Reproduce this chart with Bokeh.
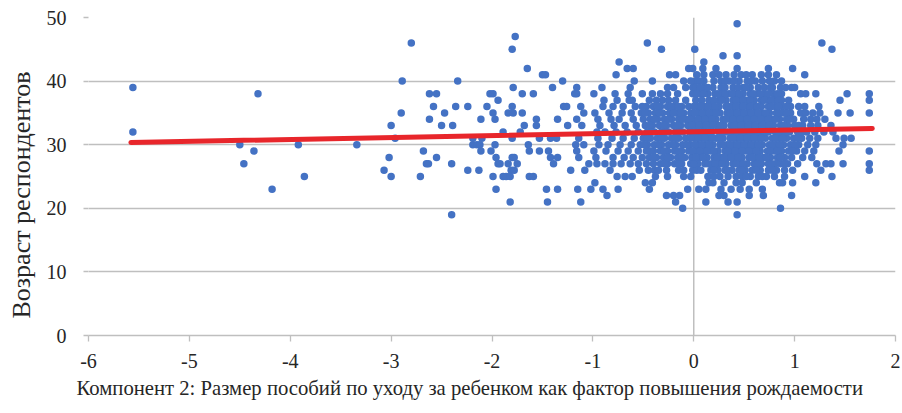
from bokeh.plotting import figure
from bokeh.models import ColumnDataSource, Span, Title, FixedTicker, Range1d
from bokeh.embed import file_html
from bokeh.resources import INLINE

# Component-2 scores of respondents, grouped by respondent age (years)
x_by_age = {
    49: [0.43],
    47: [-1.77],
    46: [-2.80, -0.46, 1.27],
    45: [-1.80, -0.32, 0.01, 1.37],
    44: [0.29, 0.43],
    43: [-0.74, 0.10],
    42: [-1.65, -0.66, -0.60, -0.05, -0.01, 0.09, 0.22, 0.43, 0.74, 0.98],
    41: [-1.50, -1.47, -0.77, -0.24, -0.18, 0.19, 0.32, 0.58, 0.67, 0.74, 1.10],
    40: [-2.89, -2.34, -1.30, -0.59, -0.41, -0.10, 0.02, 0.10, 0.27, 0.35, 0.45, 0.53, 0.61, 0.68, 0.80],
    39: [-5.56, -1.79, -1.40, -1.16, -0.91, -0.63, -0.26, -0.20, -0.01, 0.02, 0.10, 0.19, 0.27, 0.39, 0.49,
         0.56, 0.64, 0.78, 0.86, 0.97, 1.00],
    38: [-4.32, -2.62, -2.55, -2.02, -1.99, -1.70, -1.59, -1.18, -1.16, -0.99, -0.78, -0.65, -0.51, -0.41,
         -0.26, -0.16, -0.01, 0.07, 0.14, 0.21, 0.28, 0.35, 0.42, 0.49, 0.56, 0.63, 0.70, 0.79, 0.87, 1.06,
         1.11, 1.21, 1.52, 1.74],
    37: [-1.94, -0.89, -0.76, -0.64, -0.61, -0.44, -0.31, -0.25, -0.08, 0.02, 0.15, 0.25, 0.32, 0.39, 0.46,
         0.53, 0.60, 0.67, 0.74, 0.81, 0.87, 0.94, 1.45, 1.74],
    36: [-2.58, -2.36, -2.24, -2.05, -1.80, -1.29, -1.26, -1.12, -0.90, -0.80, -0.70, -0.58, -0.47, -0.40,
         -0.33, -0.26, -0.19, -0.12, -0.05, 0.04, 0.11, 0.18, 0.25, 0.32, 0.39, 0.46, 0.53, 0.60, 0.67, 0.74,
         0.81, 0.88, 0.96, 1.04, 1.24],
    35: [-2.90, -2.47, -1.99, -1.84, -1.79, -1.70, -1.09, -0.98, -0.84, -0.71, -0.62, -0.52, -0.45, -0.38,
         -0.31, -0.24, -0.17, -0.10, -0.03, 0.05, 0.12, 0.19, 0.26, 0.33, 0.40, 0.47, 0.54, 0.61, 0.68, 0.75,
         0.82, 0.89, 0.96, 1.06, 1.11, 1.18, 1.25, 1.43, 1.55, 1.74],
    34: [-2.62, -2.11, -1.97, -1.56, -1.35, -1.16, -0.95, -0.82, -0.74, -0.60, -0.50, -0.43, -0.36, -0.29,
         -0.22, -0.15, -0.08, -0.01, 0.08, 0.15, 0.22, 0.29, 0.36, 0.43, 0.50, 0.57, 0.64, 0.71, 0.78, 0.85,
         0.92, 0.99, 1.09, 1.16, 1.30],
    33: [-3.00, -2.50, -2.39, -1.68, -1.56, -1.25, -1.11, -0.93, -0.79, -0.68, -0.57, -0.48, -0.41, -0.34,
         -0.27, -0.20, -0.13, -0.06, 0.02, 0.09, 0.16, 0.23, 0.30, 0.37, 0.44, 0.51, 0.58, 0.65, 0.72, 0.79,
         0.86, 0.93, 1.00, 1.08, 1.16, 1.23, 1.36],
    32: [-5.56, -1.89, -1.72, -0.96, -0.88, -0.77, -0.66, -0.55, -0.46, -0.39, -0.32, -0.25, -0.18, -0.11,
         -0.04, 0.04, 0.11, 0.18, 0.25, 0.32, 0.39, 0.46, 0.53, 0.60, 0.67, 0.74, 0.81, 0.88, 0.95, 1.03,
         1.12, 1.20, 1.29, 1.38],
    31: [-2.96, -2.19, -2.10, -1.80, -1.53, -1.42, -1.36, -1.14, -0.95, -0.81, -0.70, -0.59, -0.50, -0.43,
         -0.36, -0.29, -0.22, -0.15, -0.08, 0.01, 0.08, 0.15, 0.22, 0.29, 0.36, 0.43, 0.50, 0.57, 0.64, 0.71,
         0.78, 0.85, 0.92, 0.99, 1.07, 1.15, 1.23, 1.41, 1.49, 1.56],
    30: [-4.50, -3.92, -3.34, -2.19, -2.15, -2.12, -1.97, -1.64, -1.17, -1.09, -0.94, -0.85, -0.73, -0.62,
         -0.53, -0.46, -0.39, -0.32, -0.25, -0.18, -0.11, -0.04, 0.05, 0.12, 0.19, 0.26, 0.33, 0.40, 0.47,
         0.54, 0.61, 0.68, 0.75, 0.82, 0.89, 0.96, 1.04, 1.13, 1.21, 1.48],
    29: [-4.36, -2.68, -2.11, -2.01, -1.63, -1.53, -1.44, -1.16, -0.99, -0.87, -0.75, -0.65, -0.55, -0.47,
         -0.40, -0.33, -0.26, -0.19, -0.12, -0.05, 0.03, 0.10, 0.17, 0.24, 0.31, 0.38, 0.45, 0.52, 0.59,
         0.66, 0.73, 0.80, 0.87, 0.94, 1.02, 1.10, 1.19, 1.44, 1.74],
    28: [-3.02, -2.55, -1.96, -1.80, -1.78, -1.42, -1.35, -1.14, -0.97, -0.80, -0.69, -0.60, -0.51, -0.44,
         -0.37, -0.30, -0.23, -0.16, -0.09, -0.02, 0.06, 0.13, 0.20, 0.27, 0.34, 0.41, 0.48, 0.55, 0.62,
         0.69, 0.76, 0.83, 0.90, 0.97, 1.08, 1.17],
    27: [-4.46, -2.65, -2.63, -2.40, -1.94, -1.92, -1.84, -1.75, -1.39, -1.04, -0.96, -0.88, -0.80, -0.72,
         -0.63, -0.55, -0.47, -0.40, -0.33, -0.26, -0.19, -0.12, -0.03, 0.04, 0.11, 0.18, 0.25, 0.32, 0.39,
         0.46, 0.53, 0.60, 0.67, 0.74, 0.81, 0.86, 0.93, 1.03, 1.22, 1.31, 1.36, 1.48, 1.74],
    26: [-3.07, -2.24, -2.13, -1.81, -1.78, -1.22, -1.08, -0.83, -0.54, -0.45, -0.39, -0.35, -0.27, -0.15,
         -0.10, -0.01, 0.03, 0.17, 0.24, 0.31, 0.38, 0.45, 0.51, 0.58, 0.66, 0.74, 0.82, 0.90, 0.98, 1.26, 1.74],
    25: [-3.86, -3.00, -2.71, -1.99, -1.89, -1.86, -1.82, -1.63, -1.59, -0.76, -0.68, -0.61, -0.38, -0.26,
         -0.10, -0.03, 0.14, 0.26, 0.34, 0.42, 0.48, 0.56, 0.64, 0.72, 0.80, 0.90, 1.10, 1.37],
    24: [-0.98, -0.48, -0.41, 0.15, 0.19, 0.30, 0.42, 0.48, 0.62, 0.85, 0.88, 0.98, 1.21],
    23: [-4.18, -1.96, -1.46, -1.35, -1.15, -1.02, -0.90, -0.75, -0.44, -0.06, 0.27, 0.37, 0.46, 0.68],
    22: [-0.86, -0.27, -0.20, -0.14, 0.25, 0.30, 0.55, 0.69, 0.97],
    21: [-1.82, -1.45, -1.12, -0.18, 0.12, 0.34, 0.43],
    20: [-0.11, 0.86],
    19: [-2.40, 0.43],
}

# Additional respondents in the dense core of the cloud (same ages)
x_by_age_core = {
    41: [0.03, 0.10, 0.25, 0.40, 0.47, 0.52, 0.82],
    40: [-0.03, 0.06, 0.20, 0.31, 0.40, 0.57, 0.75, 0.87],
    39: [-0.08, 0.06, 0.14, 0.31, 0.44, 0.52, 0.70, 0.76, 0.91],
    38: [-0.33, 0.03, 0.10, 0.24, 0.31, 0.38, 0.45, 0.59, 0.66, 0.74, 0.83],
    37: [-0.37, -0.18, 0.08, 0.20, 0.28, 0.42, 0.49, 0.56, 0.70, 0.77, 0.84],
    36: [-0.51, -0.36, -0.22, -0.15, 0.00, 0.07, 0.14, 0.21, 0.35, 0.42, 0.49, 0.56, 0.63, 0.77, 0.84, 0.92,
         1.10],
    35: [-0.48, -0.34, -0.20, -0.13, 0.01, 0.08, 0.15, 0.22, 0.36, 0.43, 0.50, 0.57, 0.64, 0.71, 0.85, 0.92],
    34: [-0.39, -0.25, -0.11, -0.04, 0.04, 0.11, 0.18, 0.32, 0.39, 0.46, 0.53, 0.60, 0.67, 0.74, 0.81, 0.95,
         1.22],
    33: [-0.44, -0.30, -0.16, -0.02, 0.05, 0.12, 0.19, 0.26, 0.40, 0.47, 0.54, 0.61, 0.68, 0.75, 0.89, 1.04],
    32: [-0.42, -0.28, -0.14, 0.00, 0.07, 0.14, 0.28, 0.35, 0.42, 0.49, 0.56, 0.63, 0.70, 0.84, 0.91, 1.07],
    31: [-0.46, -0.32, -0.18, -0.03, 0.04, 0.11, 0.18, 0.25, 0.39, 0.46, 0.53, 0.60, 0.67, 0.81, 0.88, 1.03],
    30: [-0.49, -0.35, -0.21, -0.07, 0.01, 0.08, 0.15, 0.29, 0.36, 0.43, 0.50, 0.57, 0.64, 0.78, 0.85, 1.00],
    29: [-0.43, -0.29, -0.15, -0.01, 0.06, 0.13, 0.20, 0.34, 0.41, 0.48, 0.55, 0.62, 0.76, 0.83, 0.98],
    28: [-0.40, -0.26, -0.12, 0.02, 0.09, 0.23, 0.30, 0.37, 0.44, 0.58, 0.65, 0.72, 0.86],
    27: [-0.29, -0.15, 0.00, 0.14, 0.21, 0.28, 0.42, 0.49, 0.63, 0.77, 0.90],
    26: [0.07, 0.20, 0.34, 0.48, 0.62, 0.78],
    25: [0.20, 0.52, 0.68],
    23: [0.05, 0.12, 0.55],
}

# Linear trend line (end points)
fit_x = [-5.58, 1.77]
fit_y = [30.35, 32.55]

x_ticks = [-6, -5, -4, -3, -2, -1, 0, 1, 2]
y_ticks = [0, 10, 20, 30, 40, 50]
x_title = "Компонент 2: Размер пособий по уходу за ребенком как фактор повышения рождаемости"
y_title = "Возраст респондентов"

xs, ys = [], []
for table in (x_by_age, x_by_age_core):
    for age, row in table.items():
        xs.extend(row)
        ys.extend([age] * len(row))
src = ColumnDataSource(dict(x=xs, y=ys))

FONT = "Liberation Serif"
TXT = "#262626"
GRID = "#BFBFBF"

p = figure(width=902, height=413, output_backend="svg", toolbar_location=None,
           x_range=Range1d(-6, 2), y_range=Range1d(0, 50),
           min_border_left=87, min_border_right=7, min_border_top=17, min_border_bottom=78)
p.outline_line_color = None
p.xgrid.visible = False
p.ygrid.ticker = FixedTicker(ticks=y_ticks)
p.ygrid.grid_line_color = GRID
p.ygrid.grid_line_width = 1.3

p.xaxis.ticker = FixedTicker(ticks=x_ticks)
p.xaxis.major_label_overrides = {t: str(t) for t in x_ticks}
p.xaxis.axis_line_color = GRID
p.xaxis.axis_line_width = 1.3
p.xaxis.major_tick_line_color = GRID
p.xaxis.major_tick_line_width = 1.3
p.xaxis.major_tick_out = 6
p.xaxis.major_tick_in = 0
p.xaxis.minor_tick_line_color = None
p.xaxis.major_label_standoff = 12

p.yaxis.ticker = FixedTicker(ticks=y_ticks)
p.yaxis.axis_line_color = None
p.yaxis.major_tick_line_color = GRID
p.yaxis.major_tick_line_width = 1.3
p.yaxis.major_tick_out = 5
p.yaxis.major_tick_in = 0
p.yaxis.minor_tick_line_color = None
p.yaxis.major_label_standoff = 17

for ax in (p.xaxis, p.yaxis):
    ax.major_label_text_font = FONT
    ax.major_label_text_font_size = "20px"
    ax.major_label_text_color = TXT

vline = Span(location=0, dimension="height", line_color=GRID, line_width=1.5, level="underlay")
p.add_layout(vline)

p.scatter("x", "y", source=src, size=7.5, fill_color="#4472C4", line_color=None)
p.line(fit_x, fit_y, line_color="#E8262B", line_width=5, line_cap="round")

p.add_layout(Title(text=x_title, align="left", offset=-12, standoff=8, text_font=FONT,
                   text_font_size="20.7px", text_font_style="normal", text_color=TXT), "below")
p.add_layout(Title(text=y_title, align="left", vertical_align="top", offset=17, standoff=12,
                   text_font=FONT, text_font_size="26px", text_font_style="normal", text_color=TXT), "left")

open("out.html", "w").write(file_html(p, INLINE))
